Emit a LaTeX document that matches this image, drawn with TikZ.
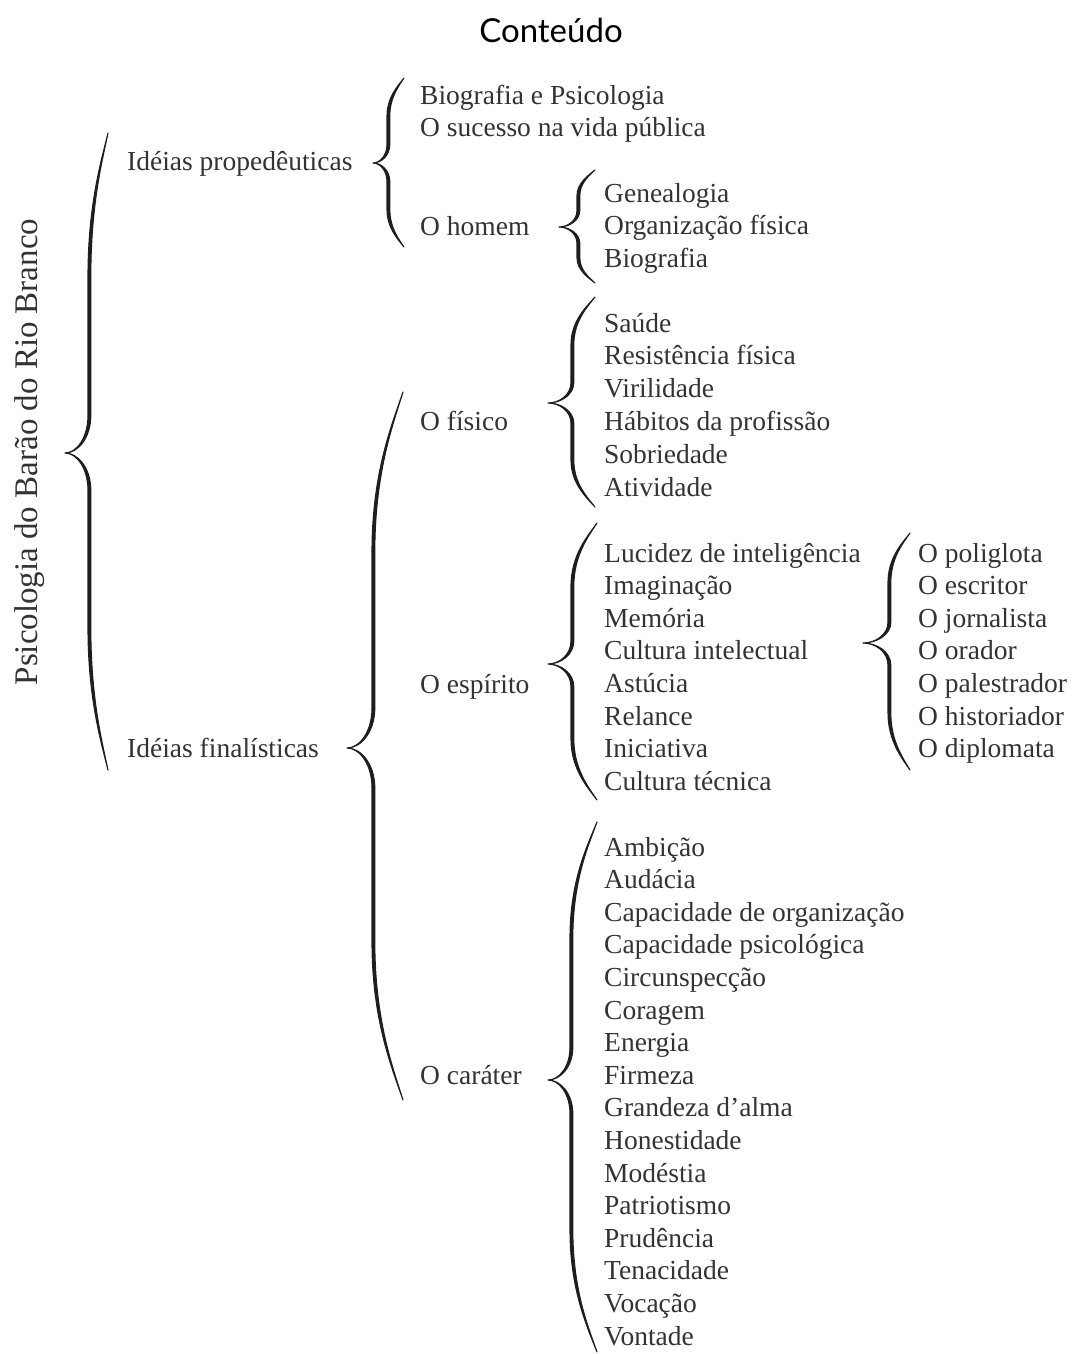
\documentclass[tikz,border=0pt]{standalone}
\usepackage{fontspec}
\setmainfont{Liberation Serif}
\newfontfamily\titlefont{Lato}
\definecolor{textcol}{HTML}{333333}
\definecolor{bracecol}{HTML}{1E1E1E}
\newcommand{\mybrace}[6]{%
\pgfmathsetmacro{\brXe}{#1}%
\pgfmathsetmacro{\brXv}{#2}%
\pgfmathsetmacro{\brXt}{#3}%
\pgfmathsetmacro{\brYt}{#4}%
\pgfmathsetmacro{\brYm}{#5}%
\pgfmathsetmacro{\brYb}{#6}%
\pgfmathsetmacro{\brKa}{0.45*(\brYm-\brYt)}%
\pgfmathsetmacro{\brKb}{0.45*(\brYb-\brYm)}%
\pgfmathsetmacro{\brTa}{min(0.08*(\brYm-\brYt)+12,40)}%
\pgfmathsetmacro{\brTb}{min(0.08*(\brYb-\brYm)+12,40)}%
\pgfmathsetmacro{\brXi}{\brXv+2.8}%
\fill[bracecol, draw=bracecol, line width=1.1pt, line join=round]
 (\brXe,\brYt)
 .. controls ({\brXe-0.35*(\brXe-\brXv)},{\brYt+0.2*\brKa}) and (\brXv,{\brYt+0.5*\brKa}) .. (\brXv,{\brYt+\brKa})
 -- (\brXv,{\brYm-\brTa})
 .. controls (\brXv,{\brYm-0.4*\brTa}) and ({\brXt+0.5*(\brXv-\brXt)},\brYm) .. (\brXt,\brYm)
 .. controls ({\brXt+0.5*(\brXv-\brXt)},\brYm) and (\brXv,{\brYm+0.4*\brTb}) .. (\brXv,{\brYm+\brTb})
 -- (\brXv,{\brYb-\brKb})
 .. controls (\brXv,{\brYb-0.5*\brKb}) and ({\brXe-0.35*(\brXe-\brXv)},{\brYb-0.2*\brKb}) .. (\brXe,\brYb)
 .. controls ({\brXe-0.35*(\brXe-\brXi)},{\brYb-0.2*\brKb}) and (\brXi,{\brYb-0.5*\brKb}) .. (\brXi,{\brYb-\brKb})
 -- (\brXi,{\brYm+\brTb})
 .. controls (\brXi,{\brYm+0.4*\brTb}) and ({\brXt+0.5*(\brXi-\brXt)},\brYm) .. (\brXt,\brYm)
 .. controls ({\brXt+0.5*(\brXi-\brXt)},\brYm) and (\brXi,{\brYm-0.4*\brTa}) .. (\brXi,{\brYm-\brTa})
 -- (\brXi,{\brYt+\brKa})
 .. controls (\brXi,{\brYt+0.5*\brKa}) and ({\brXe-0.35*(\brXe-\brXi)},{\brYt+0.2*\brKa}) .. cycle;
}
\begin{document}
\begin{tikzpicture}[x=1pt,y=-1pt,
  item/.style={anchor=base west, inner sep=0pt, font=\fontsize{27.5}{33}\selectfont, text=textcol},
  titlestyle/.style={inner sep=0pt, font=\titlefont\fontsize{33}{40}\selectfont, text=black}]
\useasboundingbox (0,0) rectangle (1076,1354);
\fill[white] (0,0) rectangle (1076,1354);

% title
\node[titlestyle] (title) at (551,30) {Conteúdo};

% root
\node[item, anchor=base, rotate=90, font=\fontsize{33}{40}\selectfont] (root) at (37,452) {Psicologia do Barão do Rio Branco};

% level 1
\node[item] (prop) at (127,170) {Idéias propedêuticas};
\node[item] (fin) at (127,757) {Idéias finalísticas};

% level 2 (propedeuticas)
\node[item] (biopsi) at (420,104) {Biografia e Psicologia};
\node[item] (sucesso) at (420,136) {O sucesso na vida pública};
\node[item] (homem) at (420,235) {O homem};

% O homem items
\foreach \t [count=\i] in {Genealogia, Organização física, Biografia}
  \node[item] (hom\i) at (604,{202+(\i-1)*32.7}) {\t};

% level 2 (finalisticas)
\node[item] (fisico) at (420,430) {O físico};
\node[item] (espirito) at (420,693) {O espírito};
\node[item] (carater) at (420,1084) {O caráter};

\foreach \t [count=\i] in {Saúde, Resistência física, Virilidade, Hábitos da profissão, Sobriedade, Atividade}
  \node[item] (fis\i) at (604,{332+(\i-1)*32.8}) {\t};

\foreach \t [count=\i] in {Lucidez de inteligência, Imaginação, Memória, Cultura intelectual, Astúcia, Relance, Iniciativa, Cultura técnica}
  \node[item] (esp\i) at (604,{562+(\i-1)*32.65}) {\t};

\foreach \t [count=\i] in {O poliglota, O escritor, O jornalista, O orador, O palestrador, O historiador, O diplomata}
  \node[item] (luc\i) at (918,{562+(\i-1)*32.65}) {\t};

\foreach \t [count=\i] in {Ambição, Audácia, Capacidade de organização, Capacidade psicológica, Circunspecção, Coragem, Energia, Firmeza, Grandeza d'alma, Honestidade, Modéstia, Patriotismo, Prudência, Tenacidade, Vocação, Vontade}
  \node[item] (car\i) at (604,{856+(\i-1)*32.6}) {\t};

% braces
\mybrace{108}{88}{65}{133}{453}{770}
\mybrace{404}{387}{373}{78}{163}{247}
\mybrace{595}{577}{559}{170}{227}{283}
\mybrace{403}{372}{347}{392}{748}{1100}
\mybrace{595}{571}{548}{297}{403}{507}
\mybrace{597}{571}{548}{523}{664}{800}
\mybrace{910}{888}{863}{533}{643}{770}
\mybrace{597}{570}{548}{822}{1080}{1352}
\end{tikzpicture}
\end{document}
